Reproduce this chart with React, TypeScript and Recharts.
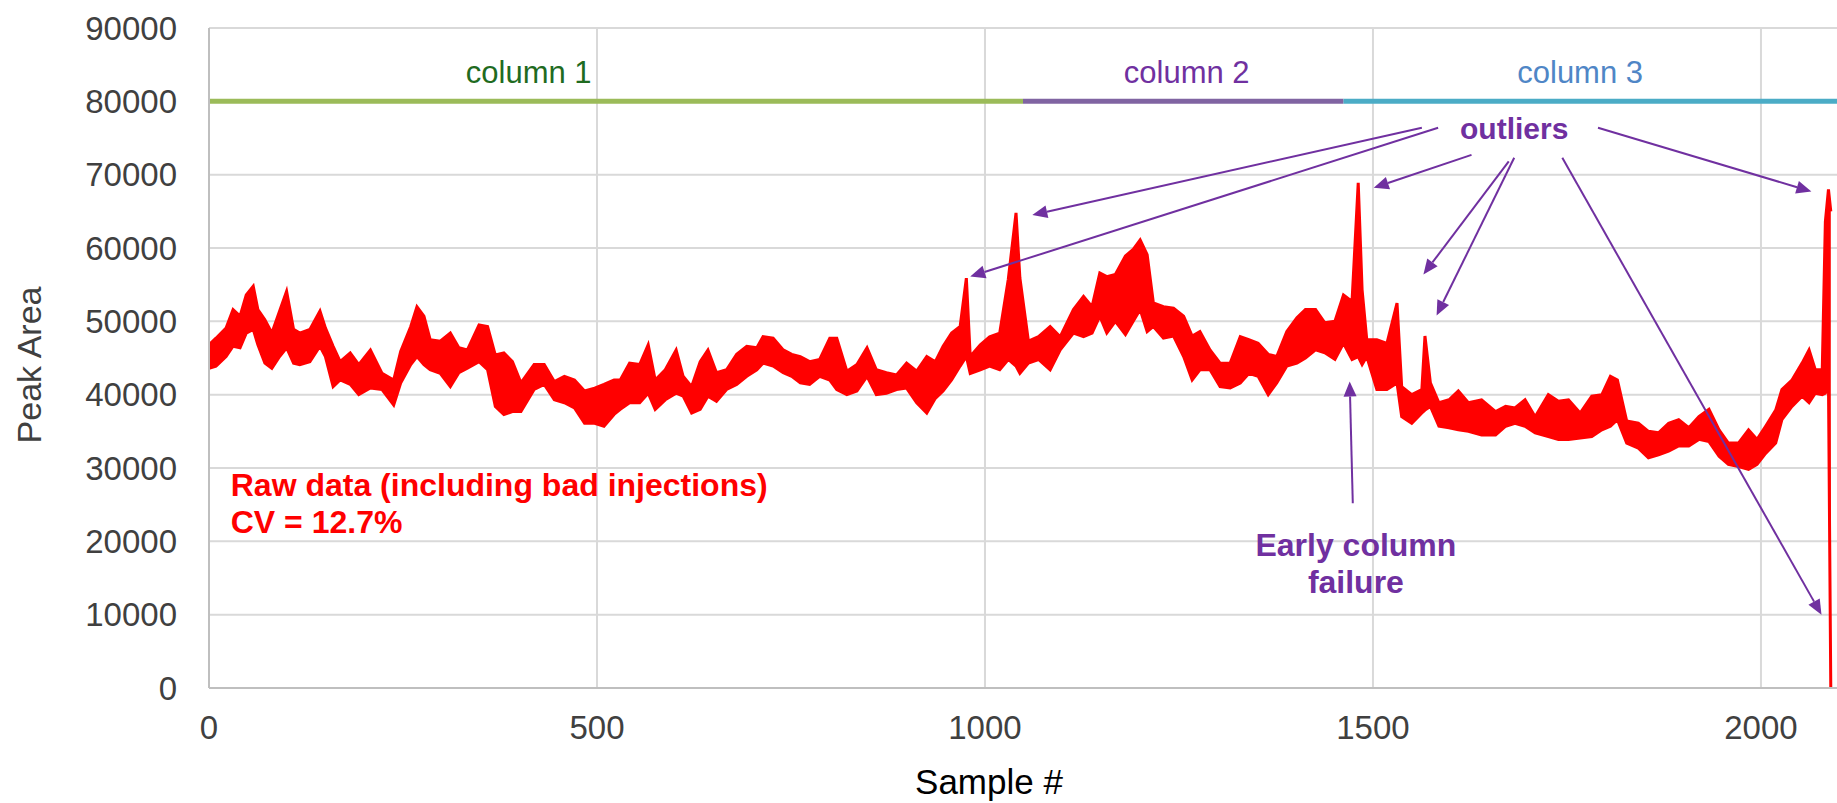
import { ComposedChart, Area, XAxis, YAxis, CartesianGrid, ReferenceLine, ReferenceDot, Label } from "recharts";

const FONT = '"Liberation Sans", Arial, sans-serif';
const PURPLE = "#7030A0";

// peak area envelope, per stretch of samples
const binStart = [
  0, 9, 22, 31, 40, 48, 57, 63, 72, 81, 91, 100, 109, 117, 130, 143, 150, 160, 169, 182,
  193, 208, 223, 238, 247, 260, 268, 277, 285, 298, 311, 322, 333, 348, 359, 369, 380, 391, 402, 419,
  432, 445, 458, 471, 484, 497, 509, 522, 530, 542, 555, 566, 575, 588, 602, 611, 622, 633, 643, 654,
  667, 680, 693, 706, 714, 727, 740, 751, 762, 774, 787, 800, 809, 822, 835, 848, 860, 873, 886, 899,
  912, 925, 936, 946, 957, 968, 976, 981, 994, 1006, 1019, 1030, 1040, 1045, 1056, 1069, 1084, 1097, 1114, 1127,
  1138, 1148, 1157, 1168, 1181, 1191, 1200, 1209, 1217, 1230, 1243, 1256, 1267, 1277, 1290, 1303, 1316, 1329, 1340, 1352,
  1365, 1376, 1389, 1402, 1413, 1426, 1438, 1451, 1462, 1473, 1481, 1486, 1492, 1505, 1518, 1531, 1537, 1550, 1563, 1567,
  1574, 1585, 1598, 1610, 1623, 1640, 1658, 1671, 1683, 1696, 1709, 1726, 1739, 1752, 1767, 1782, 1795, 1806, 1815, 1827,
  1842, 1855, 1868, 1881, 1894, 1907, 1920, 1933, 1946, 1958, 1971, 1984, 1995, 2006, 2019, 2027, 2040, 2053, 2062, 2070,
  2079, 2083, 2087, 2090,
];
const binHigh = [
  46800, 47700, 49100, 51600, 50700, 53600, 54800, 51600, 50200, 48400, 51400, 54100, 48900, 48400, 48900, 51400, 49100, 46600, 44500, 45700,
  44100, 46100, 42900, 42000, 45900, 49300, 52000, 50700, 47500, 47300, 48400, 46400, 46100, 49500, 49300, 45400, 45700, 44500, 41600, 44100,
  44100, 41800, 42500, 42000, 40500, 40900, 41400, 42000, 42000, 44300, 44100, 46800, 42000, 43400, 46100, 42500, 41100, 44500, 46100, 43000,
  43400, 45500, 46600, 46400, 47900, 47700, 46100, 45500, 45200, 44500, 44800, 47700, 47700, 43200, 44100, 46400, 43400, 43000, 42700, 44300,
  43200, 45200, 44500, 46600, 48400, 49300, 55900, 45200, 46800, 47900, 48400, 55700, 64800, 55900, 47300, 47900, 49300, 47900, 51600, 53400,
  52000, 56600, 56100, 56400, 58900, 59800, 61100, 59100, 52500, 52000, 51800, 50700, 48000, 48600, 46100, 44300, 44300, 47900, 47500, 47000,
  45500, 45200, 48600, 50500, 51600, 51600, 49800, 50000, 53600, 52700, 68900, 54300, 47500, 47500, 47000, 52500, 41100, 40000, 40700, 48000,
  41600, 38900, 39300, 40500, 38900, 39300, 37700, 38400, 38200, 39300, 37000, 40000, 39100, 39300, 37500, 39800, 40000, 42500, 42000, 36400,
  36100, 35000, 34800, 36100, 36600, 35500, 37000, 38000, 35200, 33400, 33400, 35200, 33900, 35700, 37900, 40700, 42000, 44300, 46100, 43400,
  43400, 63600, 68000, 65000,
];
const binLow = [
  43600, 43900, 45200, 46600, 46400, 48400, 48900, 46800, 44300, 43600, 45200, 46400, 44300, 44100, 44500, 46600, 45200, 41100, 42000, 41400,
  40000, 40900, 40700, 38600, 41600, 44100, 45200, 44100, 43400, 42900, 41100, 43000, 43600, 44500, 43400, 38400, 37300, 37700, 37700, 40700,
  41400, 39300, 38900, 38200, 36100, 36100, 35700, 37300, 38000, 38900, 38900, 40200, 38000, 39300, 40200, 39800, 37500, 38000, 39800, 39100,
  40700, 41400, 42500, 43400, 44300, 43900, 43000, 42500, 41600, 41400, 42500, 42000, 40700, 40000, 40500, 42500, 40000, 40200, 40700, 40900,
  38900, 37500, 39500, 40500, 42000, 43900, 45200, 42900, 43400, 43900, 43400, 44800, 43900, 42900, 44300, 44800, 43400, 46100, 48400, 47900,
  48400, 50700, 48400, 50000, 48200, 50000, 51600, 48600, 49300, 47700, 48000, 45200, 42000, 43400, 43400, 41100, 40900, 41600, 42900, 42500,
  40000, 41600, 43900, 44300, 45000, 46100, 45700, 44800, 47000, 44800, 45200, 44100, 45200, 40700, 40700, 41600, 37000, 36100, 37500, 37900,
  38400, 35700, 35500, 35200, 35000, 34500, 34500, 35700, 36100, 35700, 34800, 34300, 33900, 33900, 34100, 34300, 35200, 35700, 36600, 33400,
  32700, 31400, 31800, 32300, 33000, 33000, 33900, 33600, 31600, 30500, 30200, 29800, 30500, 32000, 33400, 36600, 38400, 39800, 38900, 40200,
  40000, 40200, 41600, 0,
];

const xTicks = [0, 500, 1000, 1500, 2000];
const yTicks = [0, 10000, 20000, 30000, 40000, 50000, 60000, 70000, 80000, 90000];

// column bars across the top
const columnNames = ["column 1", "column 2", "column 3"];
const columnFrom = [0, 1049, 1462];
const columnTo = [1049, 1462, 2098];
const columnLabelX = [412, 1260, 1767];
const columnBarColor = ["#9BBB59", "#8064A2", "#4BACC6"];
const columnTextColor = ["#1F6B1F", "#7030A0", "#4F86C6"];

// "outliers" arrows: tail near the label, head at the point
const arrowFromX = [1563, 1584, 1627, 1675, 1682, 1744, 1790];
const arrowFromY = [76400, 76400, 72700, 71800, 72300, 72300, 76400];
const arrowToX = [1061, 981, 1501, 1565, 1582, 2078, 2065];
const arrowToY = [64500, 56100, 68200, 56400, 50800, 10000, 67700];

const series = binStart.map((s, i) => ({ x: s, band: [binLow[i], binHigh[i]] }));

const Arrow = (props: any) => {
  const { x1, y1, x2, y2 } = props;
  const dx = x2 - x1;
  const dy = y2 - y1;
  const len = Math.sqrt(dx * dx + dy * dy) || 1;
  const ux = dx / len;
  const uy = dy / len;
  const head = 15;
  const half = 6.5;
  const bx = x2 - ux * head;
  const by = y2 - uy * head;
  return (
    <g>
      <line x1={x1} y1={y1} x2={bx} y2={by} stroke={PURPLE} strokeWidth={2} />
      <polygon
        points={`${x2},${y2} ${bx - uy * half},${by + ux * half} ${bx + uy * half},${by - ux * half}`}
        fill={PURPLE}
      />
    </g>
  );
};

const note = (text: string, color: string, size: number, anchor: "start" | "middle") => (p: any) => (
  <text x={p.cx} y={p.cy} fill={color} fontSize={size} fontWeight="bold" textAnchor={anchor} dominantBaseline="central" fontFamily={FONT}>
    {text}
  </text>
);

const plain = (text: string, color: string) => (p: any) => (
  <text x={p.cx} y={p.cy} fill={color} fontSize={31} textAnchor="middle" dominantBaseline="central" fontFamily={FONT}>
    {text}
  </text>
);

export default function App() {
  return (
    <div style={{ position: "absolute", left: 0, top: 0, width: 1837, height: 803, overflow: "hidden", background: "#fff", fontFamily: FONT }}>
      <ComposedChart width={1837} height={803} data={series} margin={{ top: 28, right: 0, bottom: 0, left: 0 }}>
        <CartesianGrid stroke="#D9D9D9" strokeWidth={2} horizontalValues={yTicks} verticalValues={xTicks} />
        <XAxis
          type="number"
          dataKey="x"
          domain={[0, 2098]}
          ticks={xTicks}
          allowDataOverflow
          height={115}
          tickLine={false}
          tickSize={0}
          tickMargin={28}
          axisLine={{ stroke: "#BFBFBF", strokeWidth: 2 }}
          tick={{ fontSize: 33, fill: "#404040" }}
        >
          <Label
            content={(p: any) => (
              <text x={p.viewBox.x + 780} y={p.viewBox.y + 106} fontSize={35} fill="#000" textAnchor="middle" fontFamily={FONT}>
                Sample #
              </text>
            )}
          />
        </XAxis>
        <YAxis
          type="number"
          domain={[0, 90000]}
          ticks={yTicks}
          width={209}
          tickLine={false}
          tickSize={0}
          tickMargin={32}
          axisLine={{ stroke: "#BFBFBF", strokeWidth: 2 }}
          tick={{ fontSize: 33, fill: "#404040" }}
        >
          <Label
            content={(p: any) => {
              const cx = 29;
              const cy = p.viewBox.y + p.viewBox.height / 2 + 7;
              return (
                <text x={cx} y={cy} fontSize={34} fill="#404040" textAnchor="middle" dominantBaseline="central" transform={`rotate(-90, ${cx}, ${cy})`} fontFamily={FONT}>
                  Peak Area
                </text>
              );
            }}
          />
        </YAxis>
        <Area
          type="linear"
          dataKey="band"
          stroke="#FF0000"
          strokeWidth={3}
          fill="#FF0000"
          fillOpacity={1}
          dot={false}
          activeDot={false}
          isAnimationActive={false}
        />

        {columnNames.map((name, i) => (
          <ReferenceLine
            key={name}
            segment={[{ x: columnFrom[i], y: 80000 }, { x: columnTo[i], y: 80000 }]}
            stroke={columnBarColor[i]}
            strokeWidth={5}
            ifOverflow="visible"
          />
        ))}
        {columnNames.map((name, i) => (
          <ReferenceDot key={name + "t"} x={columnLabelX[i]} y={84000} r={0} ifOverflow="visible" shape={plain(name, columnTextColor[i])} />
        ))}

        {arrowFromX.map((fx, i) => (
          <ReferenceLine
            key={"a" + i}
            segment={[{ x: fx, y: arrowFromY[i] }, { x: arrowToX[i], y: arrowToY[i] }]}
            ifOverflow="visible"
            shape={Arrow}
          />
        ))}
        <ReferenceLine segment={[{ x: 1474, y: 25200 }, { x: 1470, y: 41800 }]} ifOverflow="visible" shape={Arrow} />

        <ReferenceDot x={1682} y={76300} r={0} ifOverflow="visible" shape={note("outliers", PURPLE, 30, "middle")} />
        <ReferenceDot x={28} y={27700} r={0} ifOverflow="visible" shape={note("Raw data (including bad injections)", "#FF0000", 32, "start")} />
        <ReferenceDot x={28} y={22700} r={0} ifOverflow="visible" shape={note("CV = 12.7%", "#FF0000", 32, "start")} />
        <ReferenceDot x={1478} y={19550} r={0} ifOverflow="visible" shape={note("Early column", PURPLE, 32, "middle")} />
        <ReferenceDot x={1478} y={14500} r={0} ifOverflow="visible" shape={note("failure", PURPLE, 32, "middle")} />
      </ComposedChart>
    </div>
  );
}
